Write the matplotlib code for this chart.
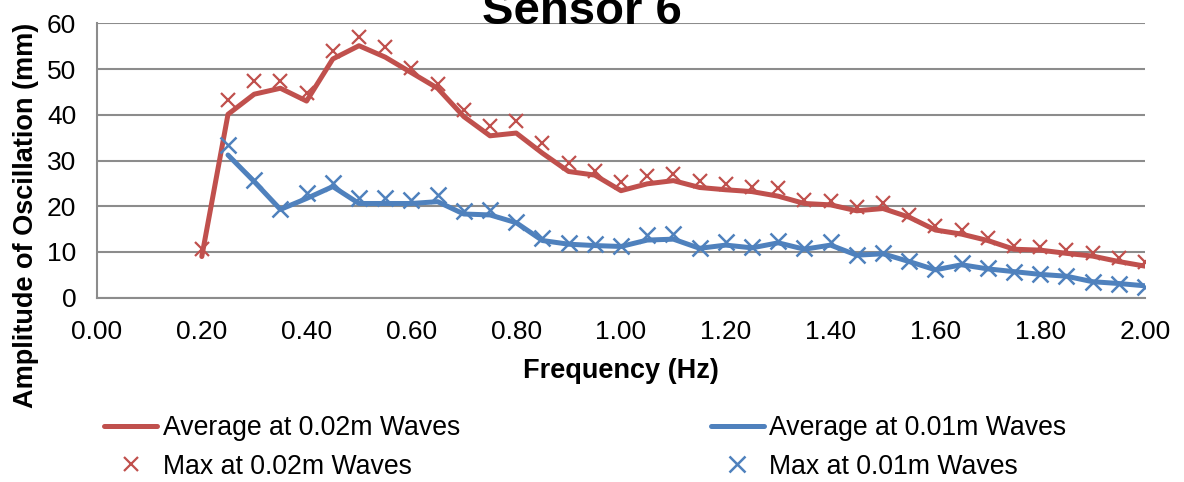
import matplotlib
matplotlib.use("Agg")
import matplotlib.pyplot as plt

plt.rcParams['font.family'] = ['Liberation Sans', 'DejaVu Sans']

freq_02 = [0.20, 0.25, 0.30, 0.35, 0.40, 0.45, 0.50, 0.55, 0.60, 0.65, 0.70, 0.75,
           0.80, 0.85, 0.90, 0.95, 1.00, 1.05, 1.10, 1.15, 1.20, 1.25, 1.30, 1.35,
           1.40, 1.45, 1.50, 1.55, 1.60, 1.65, 1.70, 1.75, 1.80, 1.85, 1.90, 1.95, 2.00]
avg_02 = [9.0, 40.1, 44.5, 45.8, 43.0, 52.2, 55.1, 52.6, 49.2, 45.8, 39.6, 35.4,
          36.0, 31.6, 27.6, 26.8, 23.4, 24.9, 25.6, 24.1, 23.6, 23.2, 22.2, 20.6,
          20.3, 19.0, 19.5, 17.6, 14.8, 13.9, 12.5, 10.6, 10.4, 9.7, 9.1, 7.9, 6.9]
max_02 = [10.6, 43.2, 47.4, 47.4, 44.8, 53.9, 57.1, 54.8, 50.2, 46.7, 41.0, 37.5,
          38.7, 33.9, 29.4, 27.8, 25.4, 26.6, 27.0, 25.6, 24.8, 24.3, 23.9, 21.4,
          21.2, 19.8, 20.6, 18.1, 15.7, 14.8, 13.0, 11.2, 11.0, 10.4, 9.7, 8.6, 7.7]

freq_01 = [0.25, 0.30, 0.35, 0.40, 0.45, 0.50, 0.55, 0.60, 0.65, 0.70, 0.75,
           0.80, 0.85, 0.90, 0.95, 1.00, 1.05, 1.10, 1.15, 1.20, 1.25, 1.30, 1.35,
           1.40, 1.45, 1.50, 1.55, 1.60, 1.65, 1.70, 1.75, 1.80, 1.85, 1.90, 1.95, 2.00]
avg_01 = [31.2, 25.4, 19.3, 21.7, 24.3, 20.6, 20.6, 20.6, 21.0, 18.3, 18.1, 16.4,
          12.5, 11.7, 11.4, 11.2, 12.6, 12.8, 10.8, 11.5, 10.9, 12.0, 10.6, 11.5,
          9.3, 9.6, 7.9, 6.1, 7.2, 6.3, 5.7, 5.1, 4.7, 3.5, 3.1, 2.6]
max_01 = [33.4, 25.7, 19.5, 22.8, 25.1, 21.7, 21.7, 21.4, 22.5, 19.0, 19.2, 16.6,
          13.0, 11.9, 11.7, 11.2, 13.7, 13.9, 10.8, 12.2, 11.1, 12.5, 10.8, 12.2,
          9.3, 9.7, 8.1, 6.2, 7.5, 6.4, 5.7, 5.2, 4.7, 3.5, 3.1, 2.4]

x_ticks = [0.0, 0.2, 0.4, 0.6, 0.8, 1.0, 1.2, 1.4, 1.6, 1.8, 2.0]
y_ticks = [0, 10, 20, 30, 40, 50, 60]

RED = '#C0504D'
BLUE = '#4F81BD'
GRID = '#8C8C8C'

W, H = 1184, 482
fig = plt.figure(figsize=(W / 100, H / 100), dpi=100)
ax = fig.add_axes([97 / W, 1 - 297.7 / H, (1145 - 97) / W, (297.7 - 23.3) / H])

l1, = ax.plot(freq_02, avg_02, color=RED, lw=3.6, solid_capstyle='round',
              solid_joinstyle='round', label='Average at 0.02m Waves', zorder=3)
l2, = ax.plot(freq_02, max_02, ls='none', marker='x', ms=9.5, mew=1.6, color=RED,
              label='Max at 0.02m Waves', zorder=4)
l3, = ax.plot(freq_01, avg_01, color=BLUE, lw=3.6, solid_capstyle='round',
              solid_joinstyle='round', label='Average at 0.01m Waves', zorder=5)
l4, = ax.plot(freq_01, max_01, ls='none', marker='x', ms=11, mew=1.8, color=BLUE,
              label='Max at 0.01m Waves', zorder=6)

ax.set_xlim(0, 2.0)
ax.set_ylim(0, 60)
ax.set_xticks(x_ticks)
ax.set_xticklabels([f'{v:.2f}' for v in x_ticks])
ax.set_yticks(y_ticks)
ax.tick_params(axis='both', length=0, labelsize=19, colors='black')
ax.tick_params(axis='y', pad=15)
ax.tick_params(axis='x', pad=16)
ax.grid(axis='y', color=GRID, lw=1.5, zorder=0)
ax.set_axisbelow(True)
for s in ['top', 'right']:
    ax.spines[s].set_visible(False)
for s in ['left', 'bottom']:
    ax.spines[s].set_color(GRID)
    ax.spines[s].set_linewidth(1.5)

ax.set_xlabel('Frequency (Hz)', fontsize=19.5, fontweight='bold', labelpad=10)
ax.set_ylabel('Amplitude of Oscillation (mm)', fontsize=19.5, fontweight='bold')
ax.yaxis.set_label_coords((39 - 97) / (1145 - 97), 0.30)

fig.text(582 / W, 1 - 24 / H, 'Sensor 6', fontsize=34, fontweight='bold',
         ha='center', va='baseline')

fig.legend(handles=[l1, l2, l3, l4], ncol=2, loc='upper left',
           bbox_to_anchor=(104 / W, 1 - 415 / H), frameon=False, fontsize=19.2,
           handlelength=2.0, handletextpad=0.2, columnspacing=9.4,
           labelspacing=0.48, borderpad=0, borderaxespad=0)

fig.savefig('out.png', dpi=100)
